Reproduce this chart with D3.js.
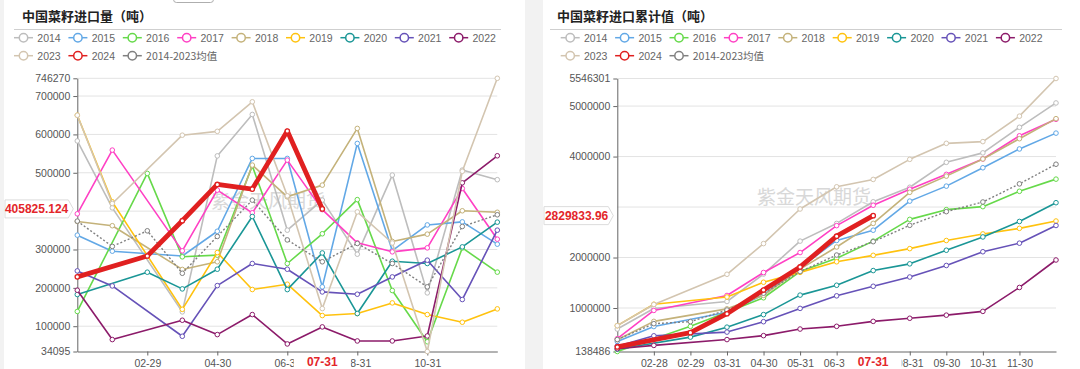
<!DOCTYPE html>
<html><head><meta charset="utf-8">
<script src="https://cdn.jsdelivr.net/npm/d3@7"></script>
<style>
body{margin:0;background:#f2f2f2;}
svg{display:block;}
</style>
</head><body>
<svg id="c" width="1080" height="369"></svg>
<script>
// ---------- data ----------
const categories = ["01-31","02-28","02-29","03-31","04-30","05-31","06-30","07-31","08-31","09-30","10-31","11-30","12-31"];
const seriesNames = ["2014","2015","2016","2017","2018","2019","2020","2021","2022","2023","2024","2014-2023均值"];
const leftTitle = "中国菜籽进口量（吨）";
const rightTitle = "中国菜籽进口累计值（吨）";
const leftXLabels = ["02-29","04-30","06-30","08-31","10-31"];
const rightXLabels = ["02-28","02-29","03-31","04-30","05-31","06-30","08-31","09-30","10-31","11-30"];
const leftYTicks = [34095,100000,200000,300000,500000,600000,700000,746270];
const leftYGrid = [100000,200000,300000,400000,500000,600000,700000,746270];
const rightYTicks = [138486,1000000,2000000,4000000,5000000,5546301];
const rightYGrid = [1000000,2000000,3000000,4000000,5000000,5546301];
const leftYDomain = [34095, 746270];
const rightYDomain = [138486, 5546301];
const pointerCategory = "07-31";
const leftPointerValue = 405825.124;
const rightPointerValue = 2829833.96;
const watermark = "紫金天风期货";

// monthly import volume (t)
const vol2014 = [583000,408600,null,137400,544000,652000,350400,428700,287800,494000,186900,507000,482000];
const vol2015 = [337400,295600,null,283000,347500,537400,537400,202600,576500,297000,364000,372000,313900];
const vol2016 = [138486,null,498300,280900,285200,518000,263500,341000,430000,193000,59500,304000,241000];
const vol2017 = [393000,559100,null,296500,454800,395600,533000,404000,317400,293900,304300,459100,326900];
const vol2018 = [373000,362000,null,248000,268000,520000,437400,467800,615600,321000,340000,400900,397000];
const vol2019 = [650000,424300,null,144000,292000,195700,209500,127800,133000,160800,130400,110400,145200];
const vol2020 = [182600,null,240800,197300,248600,386000,195500,291000,133000,269500,263500,306800,371300];
const vol2021 = [244200,205100,null,73800,205900,263500,248600,189400,183400,228500,272200,169600,350400];
const vol2022 = [193900,65200,null,115600,78200,130400,53800,98200,61600,61600,74600,473800,544300];
const vol2023 = [650000,420000,null,598000,608000,685000,440000,146000,398000,317000,34095,503936,746270];
const vol2024 = [228700,null,283000,375000,469600,457400,608700,405825.124,null,null,null,null,null];
const volAvg  = [374000,308000,348700,238000,334000,428700,325000,268000,315700,263500,202600,360000,390500];

// cumulative import volume (t)
const cum2014 = [583000,991600,null,1129000,1673000,2325000,2675400,3104100,3391900,3885900,4072800,4579800,5061800];
const cum2015 = [337400,633000,null,916000,1263500,1800900,2338300,2540900,3117400,3414400,3778400,4150400,4464300];
const cum2016 = [138486,null,636800,917700,1202900,1720900,1984400,2325400,2755400,2948400,3007900,3311900,3552900];
const cum2017 = [393000,952100,null,1248600,1703400,2099000,2632000,3036000,3353400,3647300,3951600,4410700,4737600];
const cum2018 = [373000,735000,null,983000,1251000,1771000,2208400,2676200,3291800,3612800,3952800,4353700,4750700];
const cum2019 = [650000,1074300,null,1218300,1510300,1706000,1915500,2043300,2176300,2337100,2467500,2577900,2723100];
const cum2020 = [182600,null,423400,620700,869300,1255300,1450800,1741800,1874800,2144300,2407800,2714600,3085900];
const cum2021 = [244200,449300,null,523100,729000,992500,1241100,1430500,1613900,1842400,2114600,2284200,2634600];
const cum2022 = [193900,259100,null,374700,452900,583300,637100,735300,796900,858500,933100,1406900,1951200];
const cum2023 = [650000,1070000,null,1668000,2276000,2961000,3401000,3547000,3945000,4262000,4296095,4800031,5546301];
const cum2024 = [228700,null,511700,886700,1356300,1813700,2422400,2829833.96,null,null,null,null,null];
const cumAvg  = [374800,690000,730000,960000,1293000,1722000,2049000,2314000,2638000,2909000,3100000,3459000,3848000];

// ---------- styles ----------
const colors = ["#bdbdbd","#62a8e6","#66d94a","#ff40c4","#c4b27a","#ffc20e","#1a9696","#6652b8","#8c1b6a","#d3c5b0","#e02020","#808080"];
const leftData  = [vol2014,vol2015,vol2016,vol2017,vol2018,vol2019,vol2020,vol2021,vol2022,vol2023,vol2024,volAvg];
const rightData = [cum2014,cum2015,cum2016,cum2017,cum2018,cum2019,cum2020,cum2021,cum2022,cum2023,cum2024,cumAvg];

const svg = d3.select("#c");
const FONT = "'Liberation Sans', Arial, sans-serif";
const CJK = "'Noto Sans CJK SC', sans-serif";

function panel(opts){
  const g = svg.append("g");
  g.append("rect").attr("x",opts.cardX).attr("y",0).attr("width",opts.cardW).attr("height",369).attr("fill","#fff");
  g.append("text").attr("x",opts.titleX).attr("y",20.5).text(opts.title)
    .attr("font-family",CJK).attr("font-weight","bold").attr("font-size",13).attr("fill","#222");
  g.append("line").attr("x1",opts.ruleX1).attr("x2",opts.ruleX2).attr("y1",29.5).attr("y2",29.5)
    .attr("stroke","#cfcfcf").attr("stroke-width",1);
  seriesNames.forEach((n,i)=>{
    const row = i<9?0:1, col = i<9?i:i-9;
    const lx = opts.legX + col*54.4, ly = row===0?37.7:55.7;
    const lg = g.append("g");
    lg.append("line").attr("x1",lx).attr("x2",lx+19).attr("y1",ly).attr("y2",ly).attr("stroke",colors[i]).attr("stroke-width",1.5);
    lg.append("circle").attr("cx",lx+9.5).attr("cy",ly).attr("r",4.2).attr("fill","#fff").attr("stroke",colors[i]).attr("stroke-width",1.5);
    lg.append("text").attr("x",lx+23.3).attr("y",ly+3.8).text(n)
      .attr("font-family",n.length>4?CJK:FONT).attr("font-size",10.5).attr("fill","#666");
  });

  const x = d3.scalePoint().domain(categories).range(opts.xRange);
  const y = d3.scaleLinear().domain(opts.yDomain).range([351.5, opts.yTop]);

  g.append("g").selectAll("line").data(opts.yGrid).join("line")
    .attr("x1",opts.xRange[0]).attr("x2",opts.xRange[1])
    .attr("y1",d=>y(d)).attr("y2",d=>y(d)).attr("stroke","#e3e3e3").attr("stroke-width",1);

  g.append("text").attr("x",opts.wmX).attr("y",opts.wmY).attr("text-anchor","middle").text(watermark)
    .attr("font-family",CJK).attr("font-size",19).attr("fill","#d4d4d4").attr("opacity",0.9);

  const ya = d3.axisLeft(y).tickValues(opts.yTicks).tickFormat(d=>String(d)).tickSize(4).tickSizeOuter(0).tickPadding(3);
  const yg = g.append("g").attr("transform",`translate(${opts.xRange[0]},0)`).call(ya);
  yg.select(".domain").attr("stroke","#666");
  yg.selectAll(".tick line").attr("stroke","#666");
  yg.selectAll(".tick text").attr("font-family",FONT).attr("font-size",10.5).attr("fill","#555");

  const xa = d3.axisBottom(x).tickValues(opts.xLabels).tickSize(4).tickSizeOuter(0).tickPadding(4);
  const xg = g.append("g").attr("transform","translate(0,351.5)").call(xa);
  xg.select(".domain").attr("stroke","#666");
  xg.selectAll(".tick line").attr("stroke","#666");
  xg.selectAll(".tick text").attr("font-family",FONT).attr("font-size",10.5).attr("fill","#555");

  const order = [0,1,2,3,4,5,6,7,8,9,11,10];
  order.forEach(i=>{
    const data = opts.data[i];
    const pts = categories.map((c,k)=>({c, v:data[k]})).filter(d=>d.v!==null);
    const isAvg = i===11, isCur = i===10;
    const line = d3.line().x(d=>x(d.c)).y(d=>y(d.v));
    g.append("path").datum(pts).attr("d",line).attr("fill","none")
      .attr("stroke",colors[i]).attr("stroke-width",isCur?4.8:(isAvg?1.4:1.6))
      .attr("stroke-dasharray",isAvg?"2,2":null).attr("stroke-linejoin","round");
    g.append("g").selectAll("circle").data(pts).join("circle")
      .attr("cx",d=>x(d.c)).attr("cy",d=>y(d.v)).attr("r",isCur?2.2:2.3)
      .attr("fill","#fff").attr("stroke",colors[i]).attr("stroke-width",isCur?1.3:1);
  });

  const px = x(pointerCategory);
  g.append("rect").attr("x",px-28.5).attr("y",353.5).attr("width",57).attr("height",15.5).attr("fill","#fff");
  g.append("text").attr("x",px).attr("y",366).attr("text-anchor","middle").text(pointerCategory)
    .attr("font-family",FONT).attr("font-weight","bold").attr("font-size",12).attr("fill","#e3262a");

  const py = y(opts.pointerValue);
  const bx0 = opts.cardX+1, bx1 = opts.xRange[0]-4;
  g.append("path").attr("d",`M${bx0},${py-9} L${bx1-5},${py-9} L${bx1},${py} L${bx1-5},${py+9} L${bx0},${py+9} Z`)
    .attr("fill","#fff").attr("stroke","#dcdcdc").attr("stroke-width",1);
  g.append("text").attr("x",bx1-5).attr("y",py+4.2).attr("text-anchor","end").text(opts.pointerText)
    .attr("font-family",FONT).attr("font-weight","bold").attr("font-size",12).attr("fill","#e3262a");
}

panel({cardX:4,cardW:521,titleX:22,title:leftTitle,ruleX1:14,ruleX2:501,legX:14,
  xRange:[77.3,497.3],yDomain:leftYDomain,yTop:78.3,yTicks:leftYTicks,yGrid:leftYGrid,xLabels:leftXLabels,
  data:leftData,wmX:268,wmY:208,pointerValue:leftPointerValue,pointerText:"405825.124"});
panel({cardX:543,cardW:537,titleX:557,title:rightTitle,ruleX1:550,ruleX2:1062,legX:560.7,
  xRange:[617.3,1056],yDomain:rightYDomain,yTop:78.5,yTicks:rightYTicks,yGrid:rightYGrid,xLabels:rightXLabels,
  data:rightData,wmX:814,wmY:204,pointerValue:rightPointerValue,pointerText:"2829833.96"});

svg.append("rect").attr("x",173.5).attr("y",-8).attr("width",40).attr("height",10.5).attr("rx",3)
  .attr("fill","#fff").attr("stroke","#999").attr("stroke-width",0.8);
</script>
</body></html>
